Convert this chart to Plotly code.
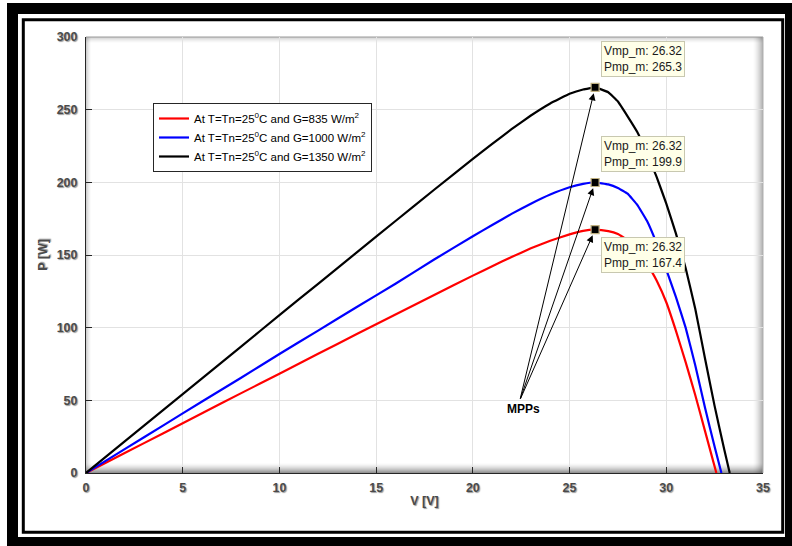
import plotly.graph_objects as go

# ---------------- data ----------------
series_names = [
    "At T=Tn=25<sup>0</sup>C and G=835 W/m<sup>2</sup>",
    "At T=Tn=25<sup>0</sup>C and G=1000 W/m<sup>2</sup>",
    "At T=Tn=25<sup>0</sup>C and G=1350 W/m<sup>2</sup>",
]
series_colors = ["#FF0000", "#0000FF", "#000000"]

v_red = [0, 2, 4, 6, 8, 10, 12, 14, 16, 18, 20, 21, 22, 23, 24, 25, 25.7, 26.32,
         27, 27.5, 28, 28.5, 29, 29.5, 30, 30.5, 31, 31.5, 32, 32.59]
p_red = [0, 13.7, 27.4, 41.1, 54.8, 68.3, 82.0, 95.6, 109.1, 122.5, 135.8, 142.3,
         148.6, 154.6, 159.8, 164.2, 166.6, 167.4, 166.4, 164.4, 160.3, 154.2,
         144.1, 132.5, 117.5, 97.8, 76.3, 53.5, 29.0, 0]

v_blue = [0, 2, 4, 6, 8, 10, 12, 14, 16, 18, 20, 21, 22, 23, 24, 25, 25.7, 26.32,
          27, 27.5, 28, 28.5, 29, 29.5, 30, 30.5, 31, 31.5, 32, 32.5, 32.85]
p_blue = [0, 16.4, 32.8, 49.2, 65.4, 81.9, 98.0, 114.2, 130.2, 146.9, 162.9, 170.6,
          178.3, 185.3, 191.6, 196.6, 198.9, 199.9, 198.6, 196.1, 192.2, 184.5,
          173.5, 158.0, 140.0, 121.0, 100.0, 74.0, 45.0, 18.0, 0]

v_black = [0, 2, 4, 6, 8, 10, 12, 14, 16, 18, 20, 21, 22, 23, 24, 25, 25.7, 26.32,
           27, 27.5, 28, 28.5, 29, 29.5, 30, 30.5, 31, 31.5, 32, 32.5, 33, 33.28]
p_black = [0, 21.7, 43.4, 65.1, 86.8, 108.6, 130.2, 151.8, 173.4, 194.9, 216.1, 226.4,
           236.6, 246.0, 254.3, 260.9, 263.9, 265.3, 262.0, 255.6, 245.4, 234.6,
           220.0, 203.7, 185.4, 164.7, 141.0, 112.8, 79.0, 46.0, 16.0, 0]

mpp_v = [26.32, 26.32, 26.32]
mpp_p = [167.4, 199.9, 265.3]

arrow_tail_v = 22.43
arrow_tail_p = 50.1
mpps_label = "MPPs"
mpps_label_v = 22.64
mpps_label_p = 43.9

x_ticks = [0, 5, 10, 15, 20, 25, 30, 35]
y_ticks = [0, 50, 100, 150, 200, 250, 300]

# ---------------- figure ----------------
W, H = 792, 546
ML, MR, MT, MB = 86, 29, 37, 73
PW, PH = W - ML - MR, H - MT - MB


def pxx(px):
    return (px - ML) / PW


def pxy(py):
    return (H - MB - py) / PH


fig = go.Figure()

for v, p, name, col in zip([v_red, v_blue, v_black], [p_red, p_blue, p_black],
                           series_names, series_colors):
    fig.add_trace(go.Scatter(x=v, y=p, mode="lines", name=name,
                             line=dict(color=col, width=2.2, shape="spline", smoothing=0.25)))

fig.add_trace(go.Scatter(x=mpp_v, y=mpp_p, mode="markers", showlegend=False,
                         marker=dict(symbol="square", size=8, color="black",
                                     line=dict(color="#BFB080", width=1.2))))

font_family = "Liberation Sans, Arial, sans-serif"
label_font = dict(family=font_family, size=12.5, color="#4a4a4a", weight="bold",
                  shadow="1px 1px 1px #9a9a9a")

annotations = []
for v, p in zip(mpp_v, mpp_p):
    annotations.append(dict(x=v, y=p, xref="x", yref="y", ax=arrow_tail_v, ay=arrow_tail_p,
                            axref="x", ayref="y", text="", showarrow=True, arrowhead=2,
                            arrowsize=1.4, arrowwidth=1, arrowcolor="black", standoff=6))
for v, p, ya, ys in zip(mpp_v, mpp_p, ["top", "bottom", "bottom"], [-7, 10, 10]):
    annotations.append(dict(x=v, y=p, xref="x", yref="y",
                            text=f"Vmp_m: {v:.2f}<br>Pmp_m: {p:.1f}",
                            showarrow=False, xanchor="left", yanchor=ya, xshift=6, yshift=ys,
                            align="left", bgcolor="#FFFFE8", bordercolor="#C8C8B0",
                            borderwidth=1, borderpad=2,
                            font=dict(family=font_family, size=12, color="#1a1a1a")))
annotations.append(dict(x=mpps_label_v, y=mpps_label_p, xref="x", yref="y",
                        text=f"<b>{mpps_label}</b>", showarrow=False,
                        font=dict(family=font_family, size=12, color="black")))

shapes = []
# inner shading of the axes box (paper-referenced, pixel sized)
x_l, x_r, y_b, y_t = pxx(ML), pxx(W - MR), pxy(H - MB), pxy(MT)
for i in range(10):
    a = 0.42 * (1 - i / 10) ** 1.6
    shapes.append(dict(type="rect", xref="paper", yref="paper", x0=0, x1=1,
                       ysizemode="pixel", yanchor=0, y0=i, y1=i + 1,
                       fillcolor=f"rgba(0,0,0,{a:.3f})", line=dict(width=0), layer="below"))
for i in range(10):
    a = 0.30 * (1 - i / 10) ** 1.6
    shapes.append(dict(type="rect", xref="paper", yref="paper", y0=0, y1=1,
                       xsizemode="pixel", xanchor=1, x0=-(i + 1), x1=-i,
                       fillcolor=f"rgba(0,0,0,{a:.3f})", line=dict(width=0), layer="below"))
for i in range(6):
    a = 0.18 * (1 - i / 6) ** 1.5
    shapes.append(dict(type="rect", xref="paper", yref="paper", x0=0, x1=1,
                       ysizemode="pixel", yanchor=1, y0=-(i + 1), y1=-i,
                       fillcolor=f"rgba(0,0,0,{a:.3f})", line=dict(width=0), layer="below"))
for i in range(5):
    a = 0.18 * (1 - i / 5) ** 1.5
    shapes.append(dict(type="rect", xref="paper", yref="paper", y0=0, y1=1,
                       xsizemode="pixel", xanchor=0, x0=i, x1=i + 1,
                       fillcolor=f"rgba(0,0,0,{a:.3f})", line=dict(width=0), layer="below"))
shapes.append(dict(type="line", xref="paper", yref="paper", x0=0, x1=1, y0=1, y1=1,
                   line=dict(color="#9a9a9a", width=1), layer="below"))
shapes.append(dict(type="line", xref="paper", yref="paper", x0=1, x1=1, y0=0, y1=1,
                   line=dict(color="#b0b0b0", width=1), layer="below"))
# outer double frame
shapes.append(dict(type="rect", xref="paper", yref="paper",
                   x0=pxx(12.5), x1=pxx(790.5), y0=pxy(8.5), y1=pxy(542.5),
                   line=dict(color="black", width=11), fillcolor="rgba(0,0,0,0)", layer="above"))
shapes.append(dict(type="rect", xref="paper", yref="paper",
                   x0=pxx(23.3), x1=pxx(782.7), y0=pxy(19.7), y1=pxy(532.3),
                   line=dict(color="black", width=3), fillcolor="rgba(0,0,0,0)", layer="above"))

fig.update_layout(
    width=W, height=H,
    margin=dict(l=ML, r=MR, t=MT, b=MB, pad=0),
    paper_bgcolor="white", plot_bgcolor="rgba(0,0,0,0)",
    font=dict(family=font_family),
    showlegend=True,
    legend=dict(x=pxx(153), y=pxy(103), xanchor="left", yanchor="top",
                bgcolor="white", bordercolor="#262626", borderwidth=1,
                font=dict(family=font_family, size=11.5, color="black"),
                tracegroupgap=0, itemwidth=30),
    annotations=annotations,
    shapes=shapes,
)

fig.update_xaxes(range=[0, 35], tickvals=x_ticks, ticktext=[str(t) for t in x_ticks],
                 ticks="inside", ticklen=6, tickcolor="#262626", tickwidth=1,
                 showline=True, linecolor="#262626", linewidth=1, mirror=False,
                 showgrid=True, gridcolor="#e2e2e2", gridwidth=1, zeroline=False,
                 tickfont=label_font, ticklabelstandoff=3,
                 title=dict(text="V [V]", font=label_font, standoff=2))
fig.update_yaxes(range=[0, 300], tickvals=y_ticks, ticktext=[str(t) for t in y_ticks],
                 ticks="inside", ticklen=6, tickcolor="#262626", tickwidth=1,
                 showline=True, linecolor="#262626", linewidth=1, mirror=False,
                 showgrid=True, gridcolor="#e2e2e2", gridwidth=1, zeroline=False,
                 tickfont=label_font, ticklabelstandoff=5,
                 title=dict(text="P [W]", font=label_font, standoff=6))

fig.write_html("out.html")
